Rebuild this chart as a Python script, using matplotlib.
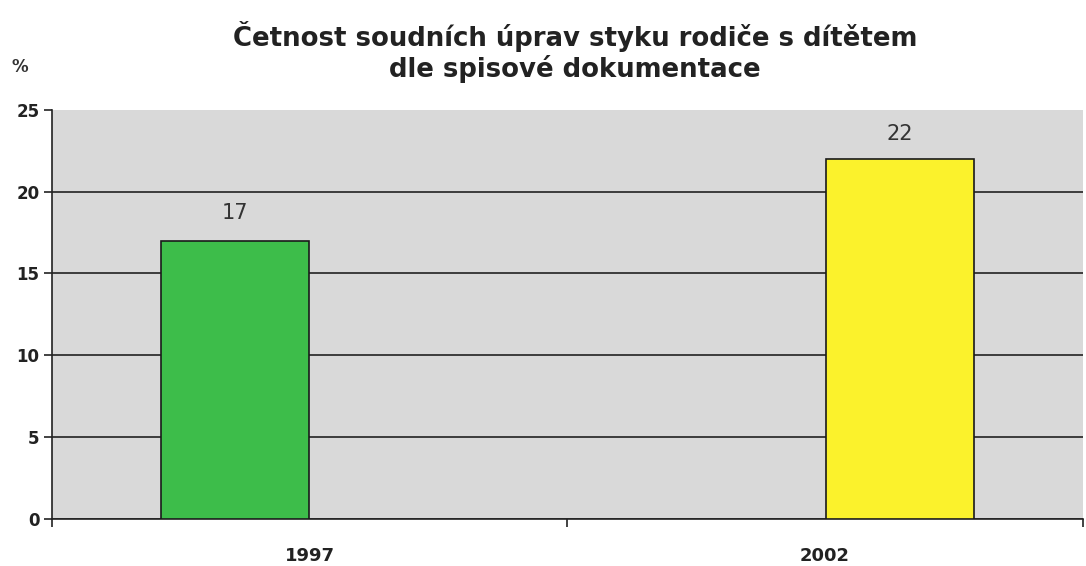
import matplotlib.pyplot as plt
import numpy as np

plt.rcParams["font.family"] = ["DejaVu Sans"]

years = ["1997", "2002"]
green_vals = [17, 0]
yellow_vals = [0, 22]
y_ticks = [0, 5, 10, 15, 20, 25]

x = np.arange(len(years))
width = 0.287
offset = 0.145

fig = plt.figure(figsize=(10.86, 5.66), dpi=100)
ax = fig.add_axes([0.048, 0.083, 0.949, 0.723])
ax.set_facecolor("#d9d9d9")

ax.bar(x[0] - offset, green_vals[0], width, color="#3dbd4a", edgecolor="#1a1a1a", linewidth=1.2, zorder=3)
ax.bar(x[1] + offset, yellow_vals[1], width, color="#fbf22c", edgecolor="#1a1a1a", linewidth=1.2, zorder=3)

ax.text(x[0] - offset, green_vals[0] + 1.1, str(green_vals[0]), ha="center", va="bottom",
        fontsize=15, color="#333333")
ax.text(x[1] + offset, yellow_vals[1] + 0.9, str(yellow_vals[1]), ha="center", va="bottom",
        fontsize=15, color="#333333")

ax.set_xlim(-0.5, 1.5)
ax.set_ylim(0, 25)
ax.set_yticks(y_ticks)
ax.set_yticklabels([str(v) for v in y_ticks], fontsize=12, fontweight="bold", color="#222222")
ax.yaxis.grid(True, color="#222222", linewidth=1.2, zorder=1)
ax.set_axisbelow(True)
ax.get_ygridlines()[-1].set_visible(False)

ax.set_xticks(x)
ax.set_xticklabels(years, fontsize=13, fontweight="bold", color="#222222")
ax.tick_params(axis="x", which="major", length=0, pad=20)
ax.set_xticks([-0.5, 0.5, 1.5], minor=True)
ax.tick_params(axis="x", which="minor", length=6, width=1.2, color="#222222")
ax.tick_params(axis="y", length=6, width=1.2, color="#222222", pad=3)

for s in ["top", "right"]:
    ax.spines[s].set_visible(False)
for s in ["left", "bottom"]:
    ax.spines[s].set_color("#222222")
    ax.spines[s].set_linewidth(1.2)

fig.text(0.5295, 1 - 36 / 566, "Četnost soudních úprav styku rodiče s dítětem",
         ha="center", va="center", fontsize=18.7, fontweight="bold", color="#222222")
fig.text(0.5295, 1 - 69 / 566, "dle spisové dokumentace",
         ha="center", va="center", fontsize=18.7, fontweight="bold", color="#222222")
fig.text(0.011, 1 - 67 / 566, "%", fontsize=12, fontweight="bold", color="#333333", va="center")

fig.savefig("out.png", dpi=100)
